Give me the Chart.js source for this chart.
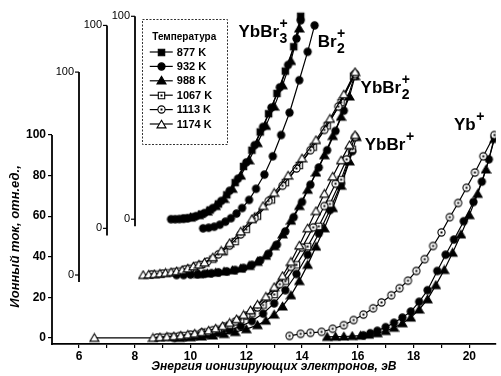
<!DOCTYPE html>
<html><head><meta charset="utf-8">
<style>html,body{margin:0;padding:0;background:#fff}#wrap{width:501px;height:376px;position:relative}</style>
<script src="https://cdn.jsdelivr.net/npm/chart.js"></script>
</head><body><div id="wrap"><canvas id="c" width="501" height="376"></canvas></div>
<script>
// ---------------- data ----------------
const temperatures = ['877 K', '932 K', '988 K', '1067 K', '1113 K', '1174 K'];
const xTickLabels = [6, 8, 10, 12, 14, 16, 18, 20];
const yTickLabels = [0, 20, 40, 60, 80, 100];
const subAxisTickLabels = [0, 100];
const yTitle = 'Ионный ток, отн.ед.,';
const xTitle = 'Энергия ионизирующих электронов, эВ';
const legendTitle = 'Температура';

// shifted ordinate axes: zero of each axis in main-axis units, and its place on the energy axis
const offsetYbBr2 = 31, offsetBr2 = 54, offsetYbBr3 = 58.5;
const posYbBr2Axis = 6, posBr2Axis = 7, posYbBr3Axis = 8;

// YbBr3+ (own axis)
const ybbr3_877_E = [9.8,10.1,10.4,10.7,11.0,11.3,11.6,11.9,12.2,12.5,12.8,13.1,13.4,13.7,13.95];
const ybbr3_877_I = [0.5,1.2,2.5,4.5,7.5,12,18,26,34,43,52,62,73,85,100];
const ybbr3_932_E = [9.3,9.45,9.6,9.75,9.9,10.2,10.5,10.8,11.1,11.4,11.7,12.0,12.3,12.6,12.9,13.2,13.5,13.8,13.95];
const ybbr3_932_I = [0,0,0.1,0.2,0.5,1.5,3,5.5,9,14,20,28,36.5,45.5,55,65,76,89,98];
const ybbr3_988_E = [10.0,10.3,10.6,10.9,11.2,11.5,11.8,12.1,12.4,12.7,13.0,13.3,13.6,13.9];
const ybbr3_988_I = [0.8,2,3.8,6.5,10,15,21.5,29,37.5,46,55.5,66,78,94];

// Br2+ (own axis)
const br2_932_E = [10.45,10.65,10.85,11.05,11.25,11.45,11.65,11.85,12.1,12.35,12.65,12.95,13.25,13.55,13.9,14.2,14.45];
const br2_932_I = [0,0.3,0.8,1.8,3.3,5,7.3,10,14,19.5,26.5,35.5,46,57,73,87,100];

// YbBr2+ (own axis)
const ybbr2_1174_E = [8.3,8.5,8.7,8.9,9.1,9.3,9.5,9.7,9.9,10.1,10.3,10.5,10.8,11.1,11.4,11.8,12.2,12.6,13.0,13.5,14.0,14.5,15.0,15.5,15.9];
const ybbr2_1174_I = [0,0.2,0.4,0.7,1,1.4,1.8,2.4,3.2,4.2,5.1,6.1,8.7,11.9,15.7,21.4,27.5,34,40.5,49,57.5,66.5,77,89,100];
const ybbr2_1113_E = [8.6,9.0,9.4,9.8,10.2,10.6,11.0,11.4,11.8,12.3,12.8,13.3,13.8,14.3,14.8,15.3,15.9];
const ybbr2_1113_I = [0.3,0.7,1.4,2.8,4.5,6.6,10.2,14.5,20,28,36.5,44,52.5,61.5,71.5,83,99];
const ybbr2_1067_E = [8.8,9.2,9.6,10.0,10.4,10.8,11.2,11.6,12.0,12.4,12.9,13.4,13.9,14.4,14.9,15.4,15.85];
const ybbr2_1067_I = [0.4,1.0,1.9,3.3,5.2,7.8,11.5,16.5,22.5,29,37,45.5,54,63,73.5,85,98];
const ybbr2_932_E = [9.5,9.75,10.0,10.25,10.5,10.75,11.0,11.3,11.6,11.9,12.2,12.5,12.8,13.1,13.4,13.7,14.0,14.3,14.6,14.9,15.2,15.5,15.9];
const ybbr2_932_I = [0,0,0.2,0.4,0.6,0.9,1.3,1.8,2.5,3.5,5,7.2,10.5,15,21.5,28.5,36,44.5,53,61.5,71,81,99];
const ybbr2_988_E = [10.3,10.6,10.9,11.2,11.5,11.8,12.1,12.4,12.7,13.0,13.3,13.6,13.9,14.2,14.5,14.8,15.1,15.4,15.7,15.9];
const ybbr2_988_I = [0.4,0.8,1.2,1.7,2.3,3.2,4.5,6.5,9.5,14.2,20,26.8,34,42,50.5,59,68.5,78,88,98];

// YbBr+ (main axis)
const ybbr_1174_E = [6.55,8.65,8.9,9.15,9.4,9.65,9.9,10.15,10.4,10.65,10.9,11.15,11.4,11.65,11.9,12.15,12.4,12.7,13.0,13.3,13.6,13.9,14.2,14.5,14.8,15.1,15.4,15.7,15.9];
const ybbr_1174_I = [0,0,0.3,0.5,0.8,1.1,1.6,2.1,2.8,3.6,4.6,5.8,7.4,9.2,11.3,13.6,16.4,20.3,25,30.5,37.5,45.5,54,62.5,71,79.5,87.5,95,100];
const ybbr_1113_E = [8.8,9.2,9.6,10.0,10.4,10.8,11.2,11.6,12.0,12.4,12.8,13.2,13.6,14.0,14.4,14.8,15.2,15.6,15.9];
const ybbr_1113_I = [0.2,0.5,0.9,1.6,2.6,3.8,5.6,8,11,15,20,26.5,35,44.5,54.5,65,76,88,99];
const ybbr_1067_E = [9.0,9.4,9.8,10.2,10.6,11.0,11.4,11.8,12.2,12.6,13.0,13.4,13.8,14.2,14.6,15.0,15.4,15.8];
const ybbr_1067_I = [0.3,0.6,1.1,1.8,2.9,4.3,6.3,8.9,12.2,16.2,21.4,28,36,45,55,66,78,93];
const ybbr_932_E = [9.4,9.8,10.2,10.6,11.0,11.4,11.8,12.2,12.6,13.0,13.4,13.8,14.2,14.6,15.0,15.4,15.8];
const ybbr_932_I = [0,0.3,0.8,1.5,2.5,3.8,5.7,8.3,12,17,23.5,31.5,41,51.5,63,76,92];
const ybbr_988_E = [9.6,10.0,10.4,10.8,11.2,11.6,12.0,12.4,12.7,13.0,13.3,13.6,13.9,14.2,14.5,14.8,15.1,15.4,15.7,15.95];
const ybbr_988_I = [0,0.3,0.7,1.2,1.9,2.9,4.3,6.3,8.5,11.5,15.5,21,28,36,45,54,64,75,87,99];

// Yb+ (main axis)
const yb_1113_E = [13.55,13.95,14.3,14.7,15.1,15.5,15.85,16.2,16.55,16.85,17.2,17.5,17.8,18.1,18.4,18.7,19.0,19.3,19.6,19.9,20.2,20.5,20.9];
const yb_1113_I = [1,2,2.5,3,4.5,6.3,8.8,11.5,14.6,17.5,21,24.5,28.2,33,38.8,45.3,52,59.5,66.5,74,81.5,89.5,100];
const yb_932_E = [16.2,16.45,16.7,17.0,17.3,17.6,17.9,18.2,18.5,18.85,19.15,19.45,19.8,20.15,20.45,20.7,20.9];
const yb_932_I = [1.3,2.3,3.5,5.3,7.5,10,13,17.8,23.5,33,41,48.5,57.5,67,77,88,99];
const yb_988_E = [14.9,15.2,15.5,15.8,16.1,16.4,16.7,17.0,17.3,17.6,17.9,18.2,18.5,18.8,19.1,19.4,19.7,20.0,20.3,20.6,20.9];
const yb_988_I = [0.5,0.6,0.7,0.9,1.1,1.6,2.3,3.4,5,7.2,10,14,19,26,33.5,42,51,60.5,71,83,98];

// ion labels (text, subscript, superscript, anchor on main scales)
const ionLabels = [
  {t:'YbBr', sub:'3', sup:'+', E:11.72, v:148.5},
  {t:'Br', sub:'2', sup:'+', E:14.56, v:143.5},
  {t:'YbBr', sub:'2', sup:'+', E:16.1, v:120.5},
  {t:'YbBr', sub:'', sup:'+', E:16.25, v:92.5},
  {t:'Yb', sub:'', sup:'+', E:19.45, v:102.5}
];

// ---------------- chart ----------------
const Y_MIN = -3, Y_MAX = 162, X_MIN = 5.03, X_MAX = 20.95;
const FONT = '"Liberation Sans", Arial, Helvetica, sans-serif';

// marker images: 877 ■, 932 ●, 988 ▲, 1067 ⊡, 1113 ⊙, 1174 △
function makeMarker(kind) {
  const c = document.createElement('canvas');
  c.width = 11; c.height = 11;
  const g = c.getContext('2d');
  const cx = 5.5, cy = 5.5;
  g.lineWidth = 1.1; g.strokeStyle = '#000';
  g.beginPath();
  if (kind === 'rect') g.rect(cx - 3.2, cy - 3.2, 6.4, 6.4);
  else if (kind === 'circle') g.arc(cx, cy, 3.6, 0, Math.PI * 2);
  else g.moveTo(cx, cy - 4.2), g.lineTo(cx + 4.5, cy + 3.4), g.lineTo(cx - 4.5, cy + 3.4), g.closePath();
  return {c, g, cx, cy};
}
function marker(kind, filled, dot) {
  const m = makeMarker(kind);
  m.g.fillStyle = filled ? '#000' : '#fff';
  m.g.fill(); m.g.stroke();
  if (dot) { m.g.fillStyle = '#000'; m.g.fillRect(m.cx - 1, m.cy - 1, 2, 2); }
  return m.c;
}
const markerImgs = [
  marker('rect', true), marker('circle', true), marker('tri', true),
  marker('rect', false, true), marker('circle', false, true), marker('tri', false)
];

const seriesList = [
  {axis:'y', ti:5, E:ybbr_1174_E, I:ybbr_1174_I},
  {axis:'y', ti:4, E:ybbr_1113_E, I:ybbr_1113_I},
  {axis:'y', ti:3, E:ybbr_1067_E, I:ybbr_1067_I},
  {axis:'y', ti:1, E:ybbr_932_E, I:ybbr_932_I},
  {axis:'y', ti:2, E:ybbr_988_E, I:ybbr_988_I},
  {axis:'y', ti:4, E:yb_1113_E, I:yb_1113_I},
  {axis:'y', ti:1, E:yb_932_E, I:yb_932_I},
  {axis:'y', ti:2, E:yb_988_E, I:yb_988_I},
  {axis:'yA', ti:5, E:ybbr2_1174_E, I:ybbr2_1174_I},
  {axis:'yA', ti:4, E:ybbr2_1113_E, I:ybbr2_1113_I},
  {axis:'yA', ti:3, E:ybbr2_1067_E, I:ybbr2_1067_I},
  {axis:'yA', ti:1, E:ybbr2_932_E, I:ybbr2_932_I},
  {axis:'yA', ti:2, E:ybbr2_988_E, I:ybbr2_988_I},
  {axis:'yB', ti:1, E:br2_932_E, I:br2_932_I},
  {axis:'yC', ti:0, E:ybbr3_877_E, I:ybbr3_877_I},
  {axis:'yC', ti:1, E:ybbr3_932_E, I:ybbr3_932_I},
  {axis:'yC', ti:2, E:ybbr3_988_E, I:ybbr3_988_I}
];

const datasets = seriesList.map(s => ({
  label: temperatures[s.ti],
  yAxisID: s.axis,
  data: s.E.map((e, i) => ({x: e, y: s.I[i]})),
  borderColor: '#000',
  borderWidth: 1.2,
  pointStyle: markerImgs[s.ti],
  pointRadius: 4,
  tension: 0,
  fill: false
}));

const subAxes = [
  {id:'yA', at: posYbBr2Axis},
  {id:'yB', at: posBr2Axis},
  {id:'yC', at: posYbBr3Axis}
];

const decor = {
  id: 'decor',
  afterDraw(chart) {
    const {ctx, chartArea: ca, scales} = chart;
    const xs = scales.x, ym = scales.y;
    ctx.save();
    ctx.strokeStyle = '#000'; ctx.fillStyle = '#000';
    // main ordinate line (0..100)
    ctx.lineWidth = 1.8;
    ctx.beginPath();
    ctx.moveTo(ca.left, ym.getPixelForValue(100));
    ctx.lineTo(ca.left, ca.bottom + 1);
    ctx.stroke();
    // shifted ordinate axes
    ctx.font = '11px ' + FONT;
    ctx.textAlign = 'right'; ctx.textBaseline = 'middle';
    subAxes.forEach(a => {
      const s = scales[a.id];
      const px = Math.round(xs.getPixelForValue(a.at));
      ctx.lineWidth = 1.8;
      ctx.beginPath();
      ctx.moveTo(px, s.getPixelForValue(-3.5));
      ctx.lineTo(px, s.getPixelForValue(100));
      ctx.stroke();
      ctx.lineWidth = 1.2;
      subAxisTickLabels.forEach(v => {
        const py = s.getPixelForValue(v);
        ctx.beginPath(); ctx.moveTo(px, py); ctx.lineTo(px - 4, py); ctx.stroke();
        ctx.fillText(String(v), px - 5, py);
      });
    });
    // y title
    ctx.save();
    ctx.translate(15, ym.getPixelForValue(50));
    ctx.rotate(-Math.PI / 2);
    ctx.font = 'italic bold 13px ' + FONT;
    ctx.textAlign = 'center'; ctx.textBaseline = 'middle';
    ctx.fillText(yTitle, 0, 0);
    ctx.restore();
    // ion labels
    ionLabels.forEach(l => {
      const x = xs.getPixelForValue(l.E), y = ym.getPixelForValue(l.v);
      ctx.font = 'bold 17px ' + FONT;
      ctx.textAlign = 'left'; ctx.textBaseline = 'alphabetic';
      ctx.fillText(l.t, x, y);
      const w = ctx.measureText(l.t).width + 0.5;
      ctx.font = 'bold 14px ' + FONT;
      if (l.sub) ctx.fillText(l.sub, x + w, y + 6);
      if (l.sup) ctx.fillText(l.sup, x + w, y - 9);
    });
    // legend box
    const lx = xs.getPixelForValue(8.25), ly = 19, lw = 85, lh = 125;
    ctx.save();
    ctx.lineWidth = 1; ctx.setLineDash([2, 1.5]); ctx.strokeStyle = '#333';
    ctx.strokeRect(Math.round(lx) + 0.5, ly + 0.5, lw, lh);
    ctx.restore();
    ctx.font = 'bold 10px ' + FONT;
    ctx.textAlign = 'center'; ctx.textBaseline = 'middle';
    ctx.fillText(legendTitle, lx + lw / 2, ly + 18);
    ctx.font = 'bold 11px ' + FONT;
    temperatures.forEach((t, i) => {
      const ry = ly + 33 + i * 14.4;
      ctx.lineWidth = 1.2;
      ctx.beginPath(); ctx.moveTo(lx + 8, ry); ctx.lineTo(lx + 31, ry); ctx.stroke();
      const img = markerImgs[i];
      ctx.drawImage(img, Math.round(lx + 19.5 - img.width / 2), Math.round(ry - img.height / 2));
      ctx.textAlign = 'left';
      ctx.fillText(t, lx + 35, ry + 0.5);
    });
    ctx.restore();
  }
};

Chart.defaults.font.family = FONT;
Chart.defaults.color = '#000';

new Chart(document.getElementById('c'), {
  type: 'line',
  data: { datasets },
  options: {
    responsive: false,
    animation: false,
    devicePixelRatio: 1,
    layout: { padding: { top: 9, right: 1, left: 0, bottom: 0 } },
    plugins: { legend: { display: false }, tooltip: { enabled: false } },
    scales: {
      x: {
        type: 'linear', min: X_MIN, max: X_MAX,
        afterBuildTicks: s => { const t = []; for (let v = 6; v <= 20; v++) t.push({value: v}); s.ticks = t; },
        afterFit: s => { s.height = 32; },
        ticks: { font: { size: 12, weight: 'bold' }, padding: 1, maxRotation: 0, autoSkip: false,
          callback: v => xTickLabels.includes(v) ? String(v) : '' },
        grid: { display: true, drawOnChartArea: false, drawTicks: true, tickLength: 4, color: '#000', lineWidth: 1.2 },
        border: { display: true, color: '#000', width: 1.8 },
        title: { display: true, text: xTitle, font: { size: 12, weight: 'bold', style: 'italic' }, padding: { top: 0, bottom: 2 } }
      },
      y: {
        type: 'linear', min: Y_MIN, max: Y_MAX,
        afterBuildTicks: s => { s.ticks = yTickLabels.map(v => ({value: v})); },
        afterFit: s => { s.width = 52; },
        ticks: { font: { size: 12, weight: 'bold' }, padding: 2 },
        grid: { display: true, drawOnChartArea: false, drawTicks: true, tickLength: 4, color: '#000', lineWidth: 1.2 },
        border: { display: false }
      },
      yA: { type: 'linear', display: false, min: Y_MIN - offsetYbBr2, max: Y_MAX - offsetYbBr2 },
      yB: { type: 'linear', display: false, min: Y_MIN - offsetBr2, max: Y_MAX - offsetBr2 },
      yC: { type: 'linear', display: false, min: Y_MIN - offsetYbBr3, max: Y_MAX - offsetYbBr3 }
    }
  },
  plugins: [decor]
});
</script>
</body></html>
